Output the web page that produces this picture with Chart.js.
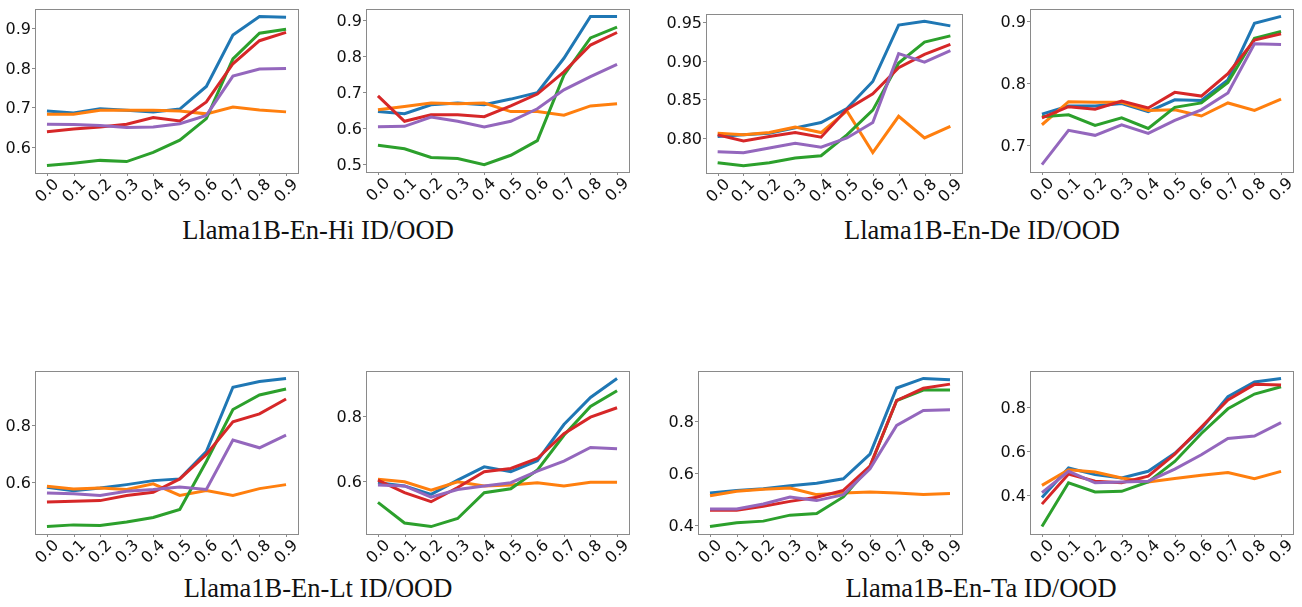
<!DOCTYPE html>
<html>
<head>
<meta charset="utf-8">
<script src="https://cdn.jsdelivr.net/npm/chart.js@4/dist/chart.umd.min.js"></script>
<style>
  body { margin: 0; background: #fff; }
  #page { position: relative; width: 1302px; height: 607px; background: #fff; overflow: hidden; }
  canvas { position: absolute; }
  .caption {
    position: absolute; width: 400px; text-align: center;
    font-family: "Liberation Serif", "Times New Roman", serif;
    font-size: 26.5px; line-height: 26.5px; color: #111;
  }
</style>
</head>
<body>
<div id="page">
  <div class="caption" style="left:118px; top:217px;">Llama1B-En-Hi ID/OOD</div>
  <div class="caption" style="left:782px; top:217px;">Llama1B-En-De ID/OOD</div>
  <div class="caption" style="left:118px; top:575px;">Llama1B-En-Lt ID/OOD</div>
  <div class="caption" style="left:781px; top:575px;">Llama1B-En-Ta ID/OOD</div>
</div>
<script>
// x values (shared by every panel)
const xs = [0.0, 0.1, 0.2, 0.3, 0.4, 0.5, 0.6, 0.7, 0.8, 0.9];
const xTickLabels = ['0.0', '0.1', '0.2', '0.3', '0.4', '0.5', '0.6', '0.7', '0.8', '0.9'];

// series order in every panel: blue, orange, green, red, purple
const seriesColors = ['#1f77b4', '#ff7f0e', '#2ca02c', '#d62728', '#9467bd'];

// ---- En-Hi ----
const enHiId = [
    [0.691, 0.686, 0.697, 0.693, 0.689, 0.696, 0.753, 0.882, 0.929, 0.927],
    [0.683, 0.683, 0.693, 0.693, 0.693, 0.691, 0.684, 0.701, 0.694, 0.689],
    [0.554, 0.560, 0.567, 0.564, 0.587, 0.618, 0.672, 0.822, 0.887, 0.897],
    [0.639, 0.646, 0.651, 0.658, 0.675, 0.666, 0.714, 0.810, 0.868, 0.889],
    [0.658, 0.657, 0.655, 0.650, 0.651, 0.659, 0.680, 0.779, 0.797, 0.798]
];
const enHiOod = [
    [0.645, 0.639, 0.664, 0.669, 0.664, 0.680, 0.698, 0.794, 0.911, 0.911],
    [0.650, 0.659, 0.669, 0.667, 0.669, 0.645, 0.645, 0.635, 0.661, 0.667],
    [0.551, 0.541, 0.517, 0.514, 0.497, 0.523, 0.564, 0.747, 0.851, 0.881],
    [0.689, 0.618, 0.636, 0.636, 0.631, 0.661, 0.694, 0.756, 0.831, 0.866],
    [0.603, 0.604, 0.630, 0.618, 0.602, 0.618, 0.653, 0.706, 0.743, 0.777]
];

// ---- En-De ----
const enDeId = [
    [0.802, 0.804, 0.806, 0.813, 0.820, 0.838, 0.873, 0.946, 0.951, 0.945],
    [0.806, 0.804, 0.807, 0.814, 0.807, 0.835, 0.781, 0.828, 0.800, 0.815],
    [0.768, 0.764, 0.768, 0.774, 0.777, 0.804, 0.836, 0.897, 0.924, 0.932],
    [0.804, 0.796, 0.802, 0.807, 0.801, 0.837, 0.857, 0.891, 0.908, 0.921],
    [0.782, 0.781, 0.787, 0.793, 0.788, 0.800, 0.820, 0.909, 0.898, 0.913]
];
const enDeOod = [
    [0.750, 0.763, 0.763, 0.767, 0.754, 0.773, 0.772, 0.805, 0.896, 0.907],
    [0.733, 0.770, 0.769, 0.769, 0.756, 0.757, 0.747, 0.768, 0.756, 0.774],
    [0.746, 0.749, 0.732, 0.744, 0.727, 0.761, 0.768, 0.801, 0.872, 0.883],
    [0.744, 0.762, 0.758, 0.771, 0.760, 0.785, 0.779, 0.815, 0.869, 0.879],
    [0.669, 0.724, 0.716, 0.733, 0.719, 0.740, 0.757, 0.784, 0.863, 0.862]
];

// ---- En-Lt ----
const enLtId = [
    [0.583, 0.571, 0.580, 0.592, 0.606, 0.612, 0.708, 0.933, 0.953, 0.964],
    [0.586, 0.577, 0.580, 0.575, 0.595, 0.554, 0.571, 0.554, 0.578, 0.592],
    [0.445, 0.451, 0.449, 0.461, 0.477, 0.505, 0.673, 0.855, 0.906, 0.927],
    [0.531, 0.534, 0.536, 0.554, 0.565, 0.612, 0.698, 0.812, 0.840, 0.892],
    [0.563, 0.560, 0.554, 0.569, 0.575, 0.584, 0.575, 0.748, 0.721, 0.765]
];
const enLtOod = [
    [0.594, 0.584, 0.558, 0.602, 0.643, 0.628, 0.662, 0.774, 0.858, 0.917],
    [0.605, 0.597, 0.571, 0.597, 0.584, 0.587, 0.594, 0.584, 0.595, 0.595],
    [0.533, 0.469, 0.458, 0.483, 0.563, 0.575, 0.633, 0.741, 0.830, 0.879],
    [0.602, 0.563, 0.535, 0.579, 0.628, 0.638, 0.669, 0.746, 0.797, 0.826],
    [0.587, 0.584, 0.549, 0.573, 0.584, 0.594, 0.630, 0.661, 0.703, 0.699]
];

// ---- En-Ta ----
const enTaId = [
    [0.523, 0.533, 0.540, 0.551, 0.561, 0.578, 0.673, 0.927, 0.964, 0.959],
    [0.513, 0.530, 0.538, 0.542, 0.517, 0.523, 0.527, 0.523, 0.517, 0.521],
    [0.394, 0.409, 0.415, 0.438, 0.444, 0.508, 0.625, 0.879, 0.919, 0.919],
    [0.457, 0.457, 0.472, 0.491, 0.507, 0.533, 0.627, 0.879, 0.926, 0.942],
    [0.462, 0.462, 0.481, 0.508, 0.494, 0.517, 0.616, 0.783, 0.841, 0.843]
];
const enTaOod = [
    [0.390, 0.524, 0.494, 0.479, 0.509, 0.591, 0.703, 0.848, 0.915, 0.931],
    [0.445, 0.516, 0.506, 0.479, 0.461, 0.476, 0.491, 0.504, 0.475, 0.509],
    [0.258, 0.457, 0.415, 0.418, 0.461, 0.554, 0.681, 0.793, 0.860, 0.893],
    [0.360, 0.497, 0.464, 0.457, 0.487, 0.587, 0.710, 0.833, 0.904, 0.901],
    [0.412, 0.509, 0.457, 0.461, 0.464, 0.519, 0.584, 0.658, 0.669, 0.730]
];

// y tick labels per panel
const enHiIdTicks = ['0.6', '0.7', '0.8', '0.9'];
const enHiOodTicks = ['0.5', '0.6', '0.7', '0.8', '0.9'];
const enDeIdTicks = ['0.80', '0.85', '0.90', '0.95'];
const enDeOodTicks = ['0.7', '0.8', '0.9'];
const enLtIdTicks = ['0.6', '0.8'];
const enLtOodTicks = ['0.6', '0.8'];
const enTaIdTicks = ['0.4', '0.6', '0.8'];
const enTaOodTicks = ['0.4', '0.6', '0.8'];

// plot boxes on the page (left, top, right, bottom)
const panels = [
    { series: enHiId,  ticks: enHiIdTicks,  box: [35, 9, 298, 173] },
    { series: enHiOod, ticks: enHiOodTicks, box: [366, 9, 629, 172] },
    { series: enDeId,  ticks: enDeIdTicks,  box: [706, 14, 962, 173] },
    { series: enDeOod, ticks: enDeOodTicks, box: [1030, 9, 1293, 172] },
    { series: enLtId,  ticks: enLtIdTicks,  box: [35, 371, 298, 534] },
    { series: enLtOod, ticks: enLtOodTicks, box: [366, 371, 629, 534] },
    { series: enTaId,  ticks: enTaIdTicks,  box: [698, 371, 962, 534] },
    { series: enTaOod, ticks: enTaOodTicks, box: [1030, 371, 1293, 534] }
];

const PAD = { left: 44, top: 8, right: 6, bottom: 46 };
const tickFont = '16px "DejaVu Sans", sans-serif';
const spineColor = '#8a8a8a';

// draws the frame, tick marks and labels like matplotlib does
const axesPlugin = {
    id: 'mplAxes',
    afterDraw(chart) {
        const ctx = chart.ctx;
        const a = chart.chartArea;
        const xScale = chart.scales.x;
        const yScale = chart.scales.y;
        const yTicks = chart.options.plugins.mplAxes.ticks;

        ctx.save();
        ctx.strokeStyle = spineColor;
        ctx.lineWidth = 1;
        ctx.strokeRect(Math.round(a.left) + 0.5, Math.round(a.top) + 0.5,
            Math.round(a.right - a.left), Math.round(a.bottom - a.top));

        ctx.fillStyle = '#111';
        ctx.font = tickFont;

        // y ticks
        ctx.textAlign = 'right';
        ctx.textBaseline = 'middle';
        yTicks.forEach(lbl => {
            const y = Math.round(yScale.getPixelForValue(parseFloat(lbl))) + 0.5;
            ctx.beginPath();
            ctx.moveTo(a.left - 3, y);
            ctx.lineTo(a.left, y);
            ctx.stroke();
            ctx.fillText(lbl, a.left - 4, y + 1);
        });

        // x ticks, rotated 45 degrees, centred on the tick
        xs.forEach((v, i) => {
            const x = Math.round(xScale.getPixelForValue(v)) + 0.5;
            ctx.beginPath();
            ctx.moveTo(x, a.bottom);
            ctx.lineTo(x, a.bottom + 3);
            ctx.stroke();
            ctx.save();
            ctx.translate(x, a.bottom + 18);
            ctx.rotate(-Math.PI / 4);
            ctx.textAlign = 'center';
            ctx.textBaseline = 'middle';
            ctx.fillText(xTickLabels[i], 0, 0);
            ctx.restore();
        });
        ctx.restore();
    }
};

const page = document.getElementById('page');

panels.forEach(p => {
    const [l, t, r, b] = p.box;
    const canvas = document.createElement('canvas');
    canvas.width = (r - l) + PAD.left + PAD.right;
    canvas.height = (b - t) + PAD.top + PAD.bottom;
    canvas.style.left = (l - PAD.left) + 'px';
    canvas.style.top = (t - PAD.top) + 'px';
    page.appendChild(canvas);

    // matplotlib style 5% margins
    const all = p.series.flat();
    const lo = Math.min(...all), hi = Math.max(...all);
    const yPad = (hi - lo) * 0.05;

    new Chart(canvas, {
        type: 'line',
        data: {
            datasets: p.series.map((vals, i) => ({
                data: vals.map((v, j) => ({ x: xs[j], y: v })),
                borderColor: seriesColors[i],
                borderWidth: 3,
                pointRadius: 0,
                tension: 0,
                order: 5 - i
            }))
        },
        options: {
            responsive: false,
            animation: false,
            devicePixelRatio: 1,
            layout: { padding: PAD },
            plugins: {
                legend: { display: false },
                tooltip: { enabled: false },
                mplAxes: { ticks: p.ticks }
            },
            scales: {
                x: { type: 'linear', display: false, min: -0.045, max: 0.945 },
                y: { type: 'linear', display: false, min: lo - yPad, max: hi + yPad }
            }
        },
        plugins: [axesPlugin]
    });
});
</script>
</body>
</html>
